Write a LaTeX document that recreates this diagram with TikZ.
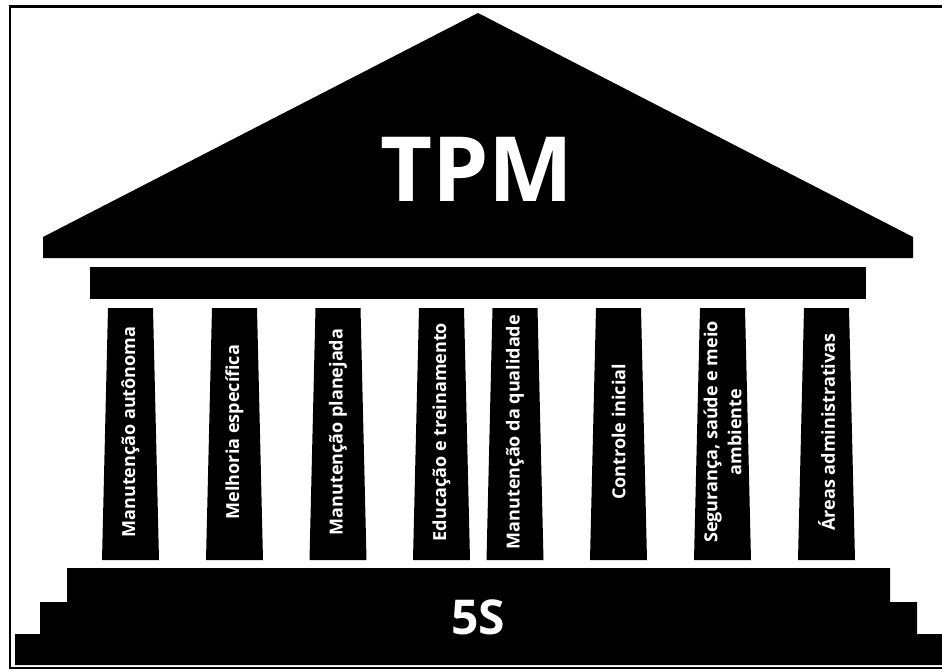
\documentclass[tikz,border=0pt]{standalone}
\usepackage{fontspec}
\setmainfont{Open Sans}
\begin{document}
\begin{tikzpicture}[x=1pt,y=-1pt,
  block/.style={fill=black},
  pillar label/.style={rotate=90,text=white,align=center,
    font=\bfseries\fontsize{18}{24}\selectfont}]

  \useasboundingbox (0,0) rectangle (942,671);
  \clip (0,0) rectangle (942,671);

  % frame
  \draw[line width=2.5pt] (945,6.5) -- (10,6.5) -- (10,668) -- (945,668);

  % roof and beam
  \fill[block] (43,258) -- (43,237) -- (478,13) -- (913,237) -- (913,258) -- cycle;
  \fill[block] (90,267) rectangle (866,299);
  \node[text=white,font=\bfseries\fontsize{90}{90}\selectfont] (tpm) at (477,169) {TPM};

  % pillars
  \foreach \x/\txt [count=\i] in {
      130.5/{Manutenção autônoma},
      234.5/{Melhoria específica},
      338/{Manutenção planejada},
      441.5/{Educação e treinamento},
      515/{Manutenção da qualidade},
      618.5/{Controle inicial},
      722.5/{Segurança, saúde e meio\\ambiente},
      826.5/{Áreas administrativas}} {
    \fill[block] (\x-22.5,308) -- (\x+22.5,308) -- (\x+28.5,560) -- (\x-28.5,560) -- cycle;
    \node[pillar label] (p\i) at (\x,432) {\txt};
  }

  % steps
  \fill[block] (67,568) -- (890,568) -- (890,602) -- (917,602) -- (917,634)
    -- (950,634) -- (950,665) -- (15,665) -- (15,634) -- (40,634)
    -- (40,602) -- (67,602) -- cycle;
  \node[text=white,font=\bfseries\fontsize{48}{48}\selectfont] (5s) at (478.5,617) {5S};
\end{tikzpicture}
\end{document}
